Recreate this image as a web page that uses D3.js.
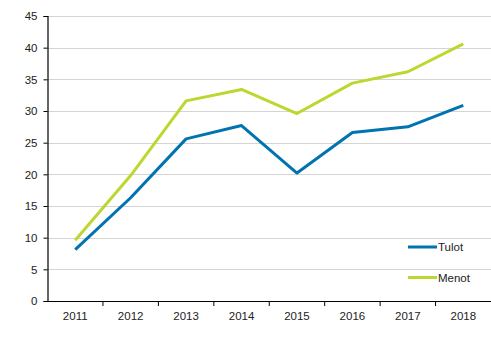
<!DOCTYPE html>
<html>
<head>
<meta charset="utf-8">
<script src="https://cdn.jsdelivr.net/npm/d3@7/dist/d3.min.js"></script>
<style>
  html, body { margin: 0; padding: 0; background: #fff; }
  svg { display: block; font-family: "Liberation Sans", Arial, sans-serif; }
</style>
</head>
<body>
<svg id="chart" width="491" height="340"></svg>
<script>
// Years on the x axis
const years = ["2011", "2012", "2013", "2014", "2015", "2016", "2017", "2018"];
// Income (Tulot) and expenditure (Menot)
const tulot = [8.1, 16.3, 25.6, 27.7, 20.2, 26.6, 27.5, 30.9];
const menot = [9.6, 19.8, 31.6, 33.4, 29.6, 34.4, 36.2, 40.6];
const yTicks = [0, 5, 10, 15, 20, 25, 30, 35, 40, 45];

const series = [
  { name: "Tulot", values: tulot, color: "#0073b0" },
  { name: "Menot", values: menot, color: "#bed630" }
];

const svg = d3.select("#chart");
const margin = { top: 16, right: 0, bottom: 39, left: 47.5 };
const width = 491 - margin.left - margin.right;
const height = 340 - margin.top - margin.bottom;

const g = svg.append("g").attr("transform", `translate(${margin.left},${margin.top})`);

const x = d3.scaleBand().domain(years).range([0, width]);
const y = d3.scaleLinear().domain([0, 45]).range([height, 0]);

// Horizontal gridlines
g.append("g")
  .selectAll("line")
  .data(yTicks.filter(d => d > 0))
  .join("line")
  .attr("x1", 0)
  .attr("x2", width)
  .attr("y1", d => Math.round(y(d)) + 0.5)
  .attr("y2", d => Math.round(y(d)) + 0.5)
  .attr("stroke", "#d4d4d4")
  .attr("stroke-width", 1);

// Y axis
const yAxis = g.append("g")
  .call(d3.axisLeft(y).tickValues(yTicks).tickSize(4).tickPadding(6));
yAxis.select(".domain").attr("stroke", "#000").attr("stroke-width", 1.2);
yAxis.selectAll(".tick line").attr("stroke", "#000");
yAxis.selectAll(".tick text")
  .attr("fill", "#222")
  .style("font-size", "11.5px")
  .style("font-family", "Liberation Sans, Arial, sans-serif");

// X axis with ticks on band boundaries
const xAxis = g.append("g")
  .attr("transform", `translate(0,${height})`)
  .call(d3.axisBottom(x).tickSize(0).tickPadding(11));
xAxis.select(".domain").attr("stroke", "#000").attr("stroke-width", 1.2);
xAxis.selectAll(".tick text")
  .attr("fill", "#222")
  .style("font-size", "11.5px")
  .style("font-family", "Liberation Sans, Arial, sans-serif");
xAxis.append("g")
  .selectAll("line")
  .data(years.slice(1))
  .join("line")
  .attr("x1", d => x(d))
  .attr("x2", d => x(d))
  .attr("y1", 0)
  .attr("y2", 5)
  .attr("stroke", "#000");

// Lines
const line = d3.line()
  .x((d, i) => x(years[i]) + x.bandwidth() / 2)
  .y(d => y(d));

g.append("g")
  .selectAll("path")
  .data(series)
  .join("path")
  .attr("d", d => line(d.values))
  .attr("fill", "none")
  .attr("stroke", d => d.color)
  .attr("stroke-width", 3)
  .attr("stroke-linejoin", "round");

// Legend
const legend = svg.append("g").attr("transform", "translate(408,247)");
const items = legend.selectAll("g")
  .data(series)
  .join("g")
  .attr("transform", (d, i) => `translate(0,${i * 30.5})`);
items.append("line")
  .attr("x1", 0).attr("x2", 29)
  .attr("y1", 0).attr("y2", 0)
  .attr("stroke", d => d.color)
  .attr("stroke-width", 3);
items.append("text")
  .attr("x", 30)
  .attr("y", 4)
  .attr("fill", "#222")
  .style("font-size", "11.5px")
  .text(d => d.name);
</script>
</body>
</html>
